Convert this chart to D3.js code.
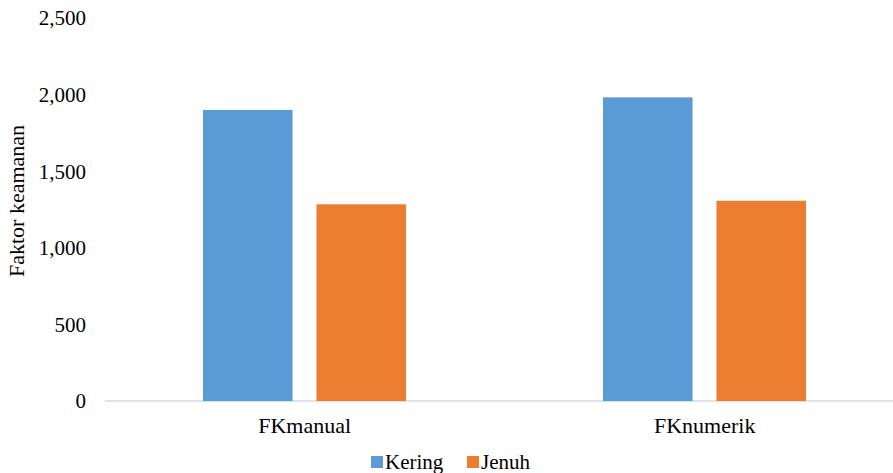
<!DOCTYPE html>
<html><head><meta charset="utf-8">
<script src="https://cdn.jsdelivr.net/npm/d3@7"></script>
<style>
body{margin:0;background:#fff}
svg{display:block}
.xl{font-family:'Liberation Serif' !important;font-size:22px !important;fill:#000}
</style>
</head><body>
<svg id="c" width="893" height="473">
<text transform="translate(24,201) rotate(-90)" text-anchor="middle" style="font-family:'Liberation Serif'" font-size="22">Faktor keamanan</text>
</svg>
<script>
const categories = ["FKmanual", "FKnumerik"];
const seriesNames = ["Kering", "Jenuh"];
const kering = [1.900, 1.982];
const jenuh = [1.284, 1.307];
const yTicks = [0, 0.5, 1.0, 1.5, 2.0, 2.5];
const yTickLabels = ["0", "500", "1,000", "1,500", "2,000", "2,500"];
const colors = ["#5B9BD5", "#ED7D31"];

const svg = d3.select("#c");
const y = d3.scaleLinear().domain([0, 2.5]).range([401, 18]);
const x = d3.scaleBand().domain(categories).range([104.7, 904.7]).padding(0);
const inner = d3.scaleBand().domain(seriesNames).range([98.3, 301.3]).paddingInner(0.211).paddingOuter(0);

svg.append("line").attr("x1", 104.7).attr("x2", 893).attr("y1", y(0)).attr("y2", y(0))
  .attr("stroke", "#d9d9d9").attr("stroke-width", 1.3);

// y tick labels (manual text, attribute font)
svg.append("g").selectAll("text").data(yTicks).join("text")
  .attr("x", 86).attr("y", d => y(d)).attr("dy", "0.35em").attr("text-anchor", "end")
  .attr("font-family", "Liberation Serif").attr("font-size", 21).attr("fill", "#000")
  .text((d, i) => yTickLabels[i]);

// x labels (class with !important)
svg.append("g").selectAll("text").data(categories).join("text")
  .attr("class", "xl").attr("x", d => x(d) + x.bandwidth() / 2).attr("y", 417).attr("dy", "0.71em")
  .attr("text-anchor", "middle").text(d => d);

// bars
const data = categories.map((c, i) => ({c, vals: [kering[i], jenuh[i]]}));
const groups = svg.append("g").selectAll("g").data(data).join("g")
  .attr("transform", d => `translate(${x(d.c)},0)`);
groups.selectAll("rect").data(d => d.vals.map((v, j) => ({s: seriesNames[j], v, j})))
  .join("rect")
  .attr("x", d => inner(d.s)).attr("width", inner.bandwidth())
  .attr("y", d => y(d.v)).attr("height", d => y(0) - y(d.v))
  .attr("fill", d => colors[d.j]);

// legend
const legX = [371, 467];
const leg = svg.append("g");
seriesNames.forEach((s, i) => {
  leg.append("rect").attr("x", legX[i]).attr("y", 456).attr("width", 12).attr("height", 12).attr("fill", colors[i]);
  leg.append("text").attr("x", legX[i] + 14).attr("y", 469).style("font-family", "'Times New Roman'").style("font-size", "21px").text(s);
});
</script></body></html>
